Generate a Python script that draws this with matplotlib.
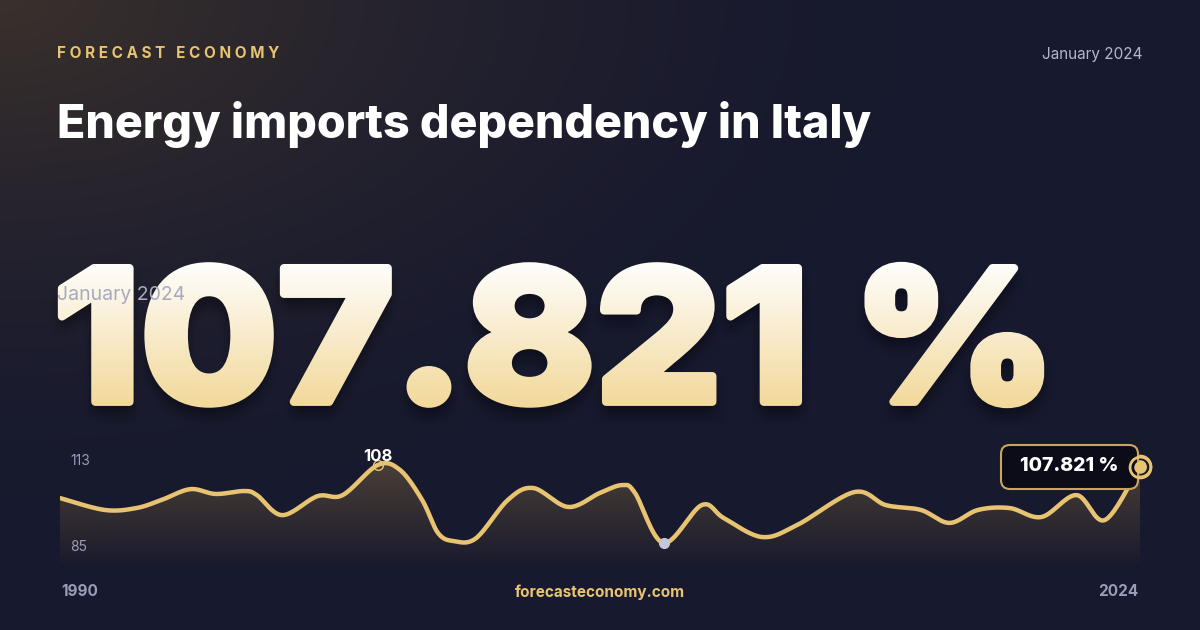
import numpy as np
import matplotlib
matplotlib.use("Agg")
import matplotlib.pyplot as plt
from matplotlib.textpath import TextPath
from matplotlib.font_manager import FontProperties
from matplotlib.patches import PathPatch, FancyBboxPatch, Polygon
from matplotlib.colors import LinearSegmentedColormap
from matplotlib.path import Path

# data
years = [1990.0, 1991.4, 1992.4, 1993.2, 1994.1, 1994.9, 1995.8, 1996.2, 1997.0, 1998.1,
         1998.9, 2000.0, 2000.7, 2001.4, 2001.9, 2002.4, 2003.1, 2004.1, 2004.9, 2006.0,
         2007.0, 2007.7, 2008.1, 2009.0, 2010.2, 2010.9, 2012.1, 2013.2, 2015.0, 2016.0,
         2017.1, 2018.0, 2018.9, 2019.9, 2020.9, 2022.0, 2022.9, 2024.0]
values = [99.1, 95.9, 96.4, 98.6, 101.5, 100.2, 101.0, 99.9, 94.5, 99.6,
          99.9, 108.0, 106.7, 98.6, 89.7, 87.5, 88.3, 98.6, 101.8, 96.7,
          100.5, 102.6, 100.5, 87.0, 97.2, 93.7, 88.6, 91.8, 100.7, 97.2,
          95.9, 92.4, 95.9, 96.4, 94.0, 99.9, 93.2, 107.821]
y_ticks = [113, 85]
x_labels = ["1990", "2024"]
headline = "107.821 %"
title = "Energy imports dependency in Italy"
period = "January 2024"

W, H = 1200, 630
gold = "#e8c472"
grey = "#9a9cb8"

# big headline glyphs: build a thickened mask off-screen
fp = FontProperties(family="Inter", weight="heavy")
tp = TextPath((0, 0), headline, size=200, prop=fp)
ext = tp.get_extents()
sx = (1040 - 62) / ext.width
sy = (404 - 266) / ext.height
verts = tp.vertices.copy()
verts[:, 0] = (verts[:, 0] - ext.x0) * sx + 62
verts[:, 1] = (verts[:, 1] - ext.y0) * sy + (H - 404)
tpath = Path(verts, tp.codes)

mfig = plt.figure(figsize=(12, 6.3), dpi=100)
max_ = mfig.add_axes([0, 0, 1, 1])
max_.set_xlim(0, W); max_.set_ylim(0, H); max_.axis("off")
max_.add_patch(PathPatch(tpath, facecolor="black", edgecolor="black", lw=6, joinstyle="round"))
mfig.canvas.draw()
rgba = np.asarray(mfig.canvas.buffer_rgba()).astype(float) / 255
plt.close(mfig)
mask = 1 - rgba[::-1, :, 0]  # origin lower

def blur(a, r):
    k = np.ones(2 * r + 1) / (2 * r + 1)
    a = np.apply_along_axis(lambda v: np.convolve(v, k, mode="same"), 0, a)
    return np.apply_along_axis(lambda v: np.convolve(v, k, mode="same"), 1, a)

shadow_mask = blur(np.roll(mask, -10, axis=0), 8)

fig = plt.figure(figsize=(12, 6.3), dpi=100)

# background
bg = fig.add_axes([0, 0, 1, 1])
bg.set_xlim(0, W)
bg.set_ylim(0, H)
bg.axis("off")
yy, xx = np.mgrid[0:H, 0:W]
d = np.sqrt((xx / 900.0) ** 2 + ((H - yy) / 500.0) ** 2)
glow = np.clip(1 - d, 0, 1) ** 1.5
base = np.array([0x17, 0x19, 0x2e]) / 255
warm = np.array([0x3a, 0x31, 0x2c]) / 255
img = base[None, None, :] * (1 - glow[..., None]) + warm[None, None, :] * glow[..., None]
img = img * (1 - 0.35 * shadow_mask[..., None])
bg.imshow(img, extent=[0, W, 0, H], origin="lower", aspect="auto", zorder=0)

# gradient text layer
top_c = np.array([1.0, 1.0, 1.0])
bot_c = np.array([0xf2, 0xd8, 0x98]) / 255
t = np.clip((yy - (H - 410)) / 150.0, 0, 1)[..., None]
col = bot_c * (1 - t) + top_c * t
txt_img = np.dstack([col, mask[..., None]])
bg.imshow(txt_img, extent=[0, W, 0, H], origin="lower", aspect="auto", zorder=2)

bg.text(57, H - 53, "F O R E C A S T   E C O N O M Y", color=gold, fontsize=11,
        fontweight="bold", family="Inter", va="center", ha="left")
bg.text(1143, H - 54, period, color="#b4b6cc", fontsize=11, family="Inter",
        va="center", ha="right")
bg.text(57, H - 125, title, color="white", fontsize=33.5, fontweight="heavy",
        family="Inter", va="center", ha="left")
bg.text(57, H - 295, period, color="#a8aac4", fontsize=14, family="Inter",
        va="center", ha="left", zorder=3)

# chart
ymin, ymax = 81.6, 110.7
ax = fig.add_axes([60 / W, (H - 563) / H, 1080 / W, 108 / H])
ax.set_xlim(1990, 2024)
ax.set_ylim(ymin, ymax)
ax.axis("off")
ax.patch.set_alpha(0)

# smooth curve through the points (Catmull-Rom) for drawing
P = np.column_stack([years, values])
Pp = np.vstack([P[0], P, P[-1]])
sx_, sy_ = [], []
for i in range(1, len(Pp) - 2):
    p0, p1, p2, p3 = Pp[i - 1], Pp[i], Pp[i + 1], Pp[i + 2]
    tt = np.linspace(0, 1, 20, endpoint=False)[:, None]
    c = 0.5 * ((2 * p1) + (-p0 + p2) * tt + (2 * p0 - 5 * p1 + 4 * p2 - p3) * tt ** 2
               + (-p0 + 3 * p1 - 3 * p2 + p3) * tt ** 3)
    sx_.extend(c[:, 0]); sy_.extend(c[:, 1])
sx_.append(years[-1]); sy_.append(values[-1])
sx_ = np.array(sx_); sy_ = np.array(sy_)

poly = Polygon(np.column_stack([np.r_[sx_, sx_[-1], sx_[0]], np.r_[sy_, ymin, ymin]]),
               closed=True, facecolor="none", edgecolor="none")
ax.add_patch(poly)
fill_cmap = LinearSegmentedColormap.from_list("f", ["#1b1b2c", "#4a3f37"])
fi = ax.imshow(np.linspace(0, 1, 256).reshape(-1, 1), cmap=fill_cmap, origin="lower",
               extent=[1990, 2024, ymin, 108.5], aspect="auto", zorder=1)
fi.set_clip_path(poly)
ax.plot(sx_, sy_, color=gold, lw=3.2, zorder=3, solid_capstyle="round")

imax = int(np.argmax(values[:-1]))
imin = int(np.argmin(values))
ax.plot(years[imax], values[imax], "o", ms=7, mfc="none", mec=gold, mew=1, zorder=4)
ax.text(years[imax], values[imax] + 0.3, "108", color="white", fontsize=12,
        fontweight="bold", family="Inter", ha="center", va="bottom", zorder=5)
ax.plot(years[imin], values[imin], "o", ms=7, color="#c4c6dc", zorder=4)

ax.plot(years[-1], values[-1], "o", ms=15, mfc="none", mec=gold, mew=2, zorder=6, clip_on=False)
ax.plot(years[-1], values[-1], "o", ms=8, color=gold, zorder=6, clip_on=False)

# overlay layer for labels above the chart
ov = fig.add_axes([0, 0, 1, 1])
ov.set_xlim(0, W); ov.set_ylim(0, H); ov.axis("off"); ov.patch.set_alpha(0)
box = FancyBboxPatch((1001, H - 489), 137, 44, boxstyle="round,pad=0,rounding_size=9",
                     facecolor="#0b0c18", edgecolor="#c9a65a", lw=1.5, zorder=5)
ov.add_patch(box)
ov.text(1069, H - 466, "107.821 %", color="white", fontsize=14, fontweight="heavy",
        family="Inter", ha="center", va="center", zorder=6)
ov.plot(1140, H - 467, "o", ms=15, mfc="none", mec=gold, mew=2, zorder=7)
ov.plot(1140, H - 467, "o", ms=8, color=gold, zorder=7)

ov.text(70, H - 461, str(y_ticks[0]), color=grey, fontsize=10, family="Inter", va="center")
ov.text(70, H - 547, str(y_ticks[1]), color=grey, fontsize=10, family="Inter", va="center")
ov.text(61, H - 592, x_labels[0], color=grey, fontsize=11, fontweight="bold", family="Inter", va="center")
ov.text(1138, H - 592, x_labels[1], color=grey, fontsize=11, fontweight="bold", family="Inter",
        va="center", ha="right")
ov.text(600, H - 592, "forecasteconomy.com", color=gold, fontsize=11, fontweight="bold",
        family="Inter", va="center", ha="center")

fig.savefig("out.png", dpi=100)
